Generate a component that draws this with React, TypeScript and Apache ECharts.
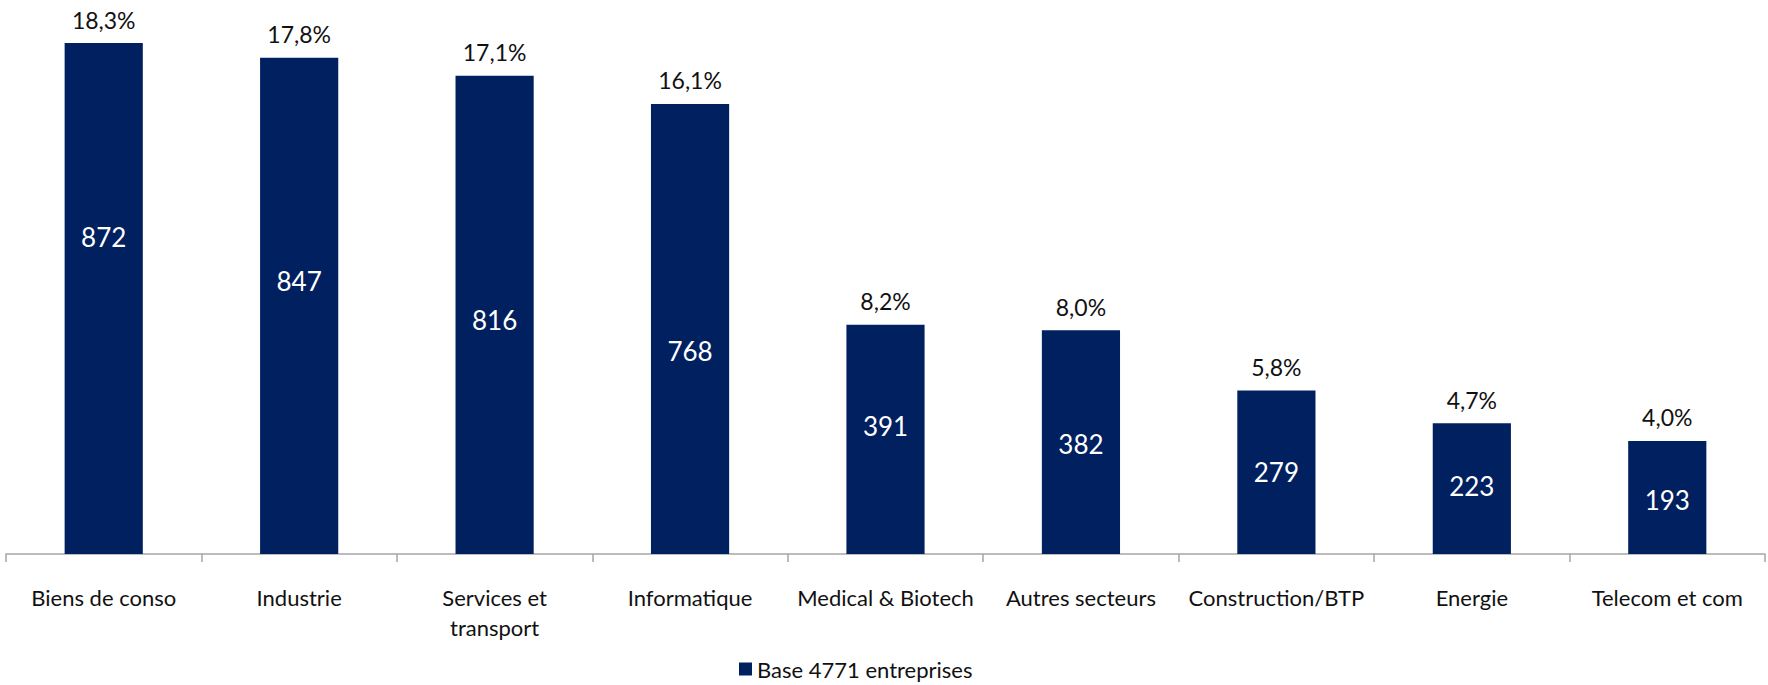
import React, { useEffect, useRef } from "react";
import * as echarts from "echarts";

const categories = [
  "Biens de conso",
  "Industrie",
  "Services et\ntransport",
  "Informatique",
  "Medical & Biotech",
  "Autres secteurs",
  "Construction/BTP",
  "Energie",
  "Telecom et com",
];
const counts = [872, 847, 816, 768, 391, 382, 279, 223, 193];
const shares = ["18,3%", "17,8%", "17,1%", "16,1%", "8,2%", "8,0%", "5,8%", "4,7%", "4,0%"];
const seriesName = "Base 4771 entreprises";

// vertical placement of the in-bar labels (fraction of bar height from its top)
const innerLabelPos = [38, 45, 51, 55, 44, 51, 50, 48, 52];

const FONT = "Lato, 'Open Sans', sans-serif";
const BAR = "#002060";

export default function App() {
  const ref = useRef<HTMLDivElement>(null);
  useEffect(() => {
    if (!ref.current) return;
    const chart = echarts.init(ref.current, undefined, { renderer: "svg" });
    chart.setOption({
      animation: false,
      textStyle: { fontFamily: FONT },
      grid: { left: 6, right: 3, top: 43, bottom: 131, containLabel: false },
      legend: {
        data: [seriesName],
        left: 734,
        top: 653,
        itemWidth: 13,
        itemHeight: 13,
        itemGap: 10,
        icon: "rect",
        textStyle: { fontFamily: FONT, fontSize: 22, color: "#111" },
      },
      xAxis: {
        type: "category",
        data: categories,
        axisLine: { show: true, lineStyle: { color: "#a6a6a6", width: 1.5 } },
        axisTick: { show: true, length: 8, alignWithLabel: false, lineStyle: { color: "#a6a6a6", width: 1.5 } },
        axisLabel: {
          interval: 0,
          margin: 28,
          fontFamily: FONT,
          fontSize: 22,
          lineHeight: 30,
          color: "#111",
        },
      },
      yAxis: {
        type: "value",
        min: 0,
        max: 872,
        show: false,
        splitLine: { show: false },
      },
      series: [
        {
          name: seriesName,
          type: "bar",
          barWidth: "40%",
          itemStyle: { color: BAR },
          data: counts.map((v, i) => ({
            value: v,
            label: { position: ["50%", innerLabelPos[i] + "%"] },
          })),
          label: {
            show: true,
            align: "center",
            verticalAlign: "middle",
            color: "#fff",
            fontFamily: FONT,
            fontSize: 26,
            formatter: "{c}",
          },
        },
        {
          name: "pct",
          type: "bar",
          barWidth: "40%",
          barGap: "-100%",
          silent: true,
          itemStyle: { color: "rgba(0,0,0,0)" },
          data: counts,
          label: {
            show: true,
            position: "top",
            distance: 12,
            color: "#111",
            fontFamily: FONT,
            fontSize: 23,
            formatter: (p: any) => shares[p.dataIndex],
          },
        },
      ],
    });
    return () => chart.dispose();
  }, []);
  return (
    <div
      ref={ref}
      style={{ position: "fixed", left: 0, top: 0, width: 1768, height: 685, background: "#fff" }}
    />
  );
}
